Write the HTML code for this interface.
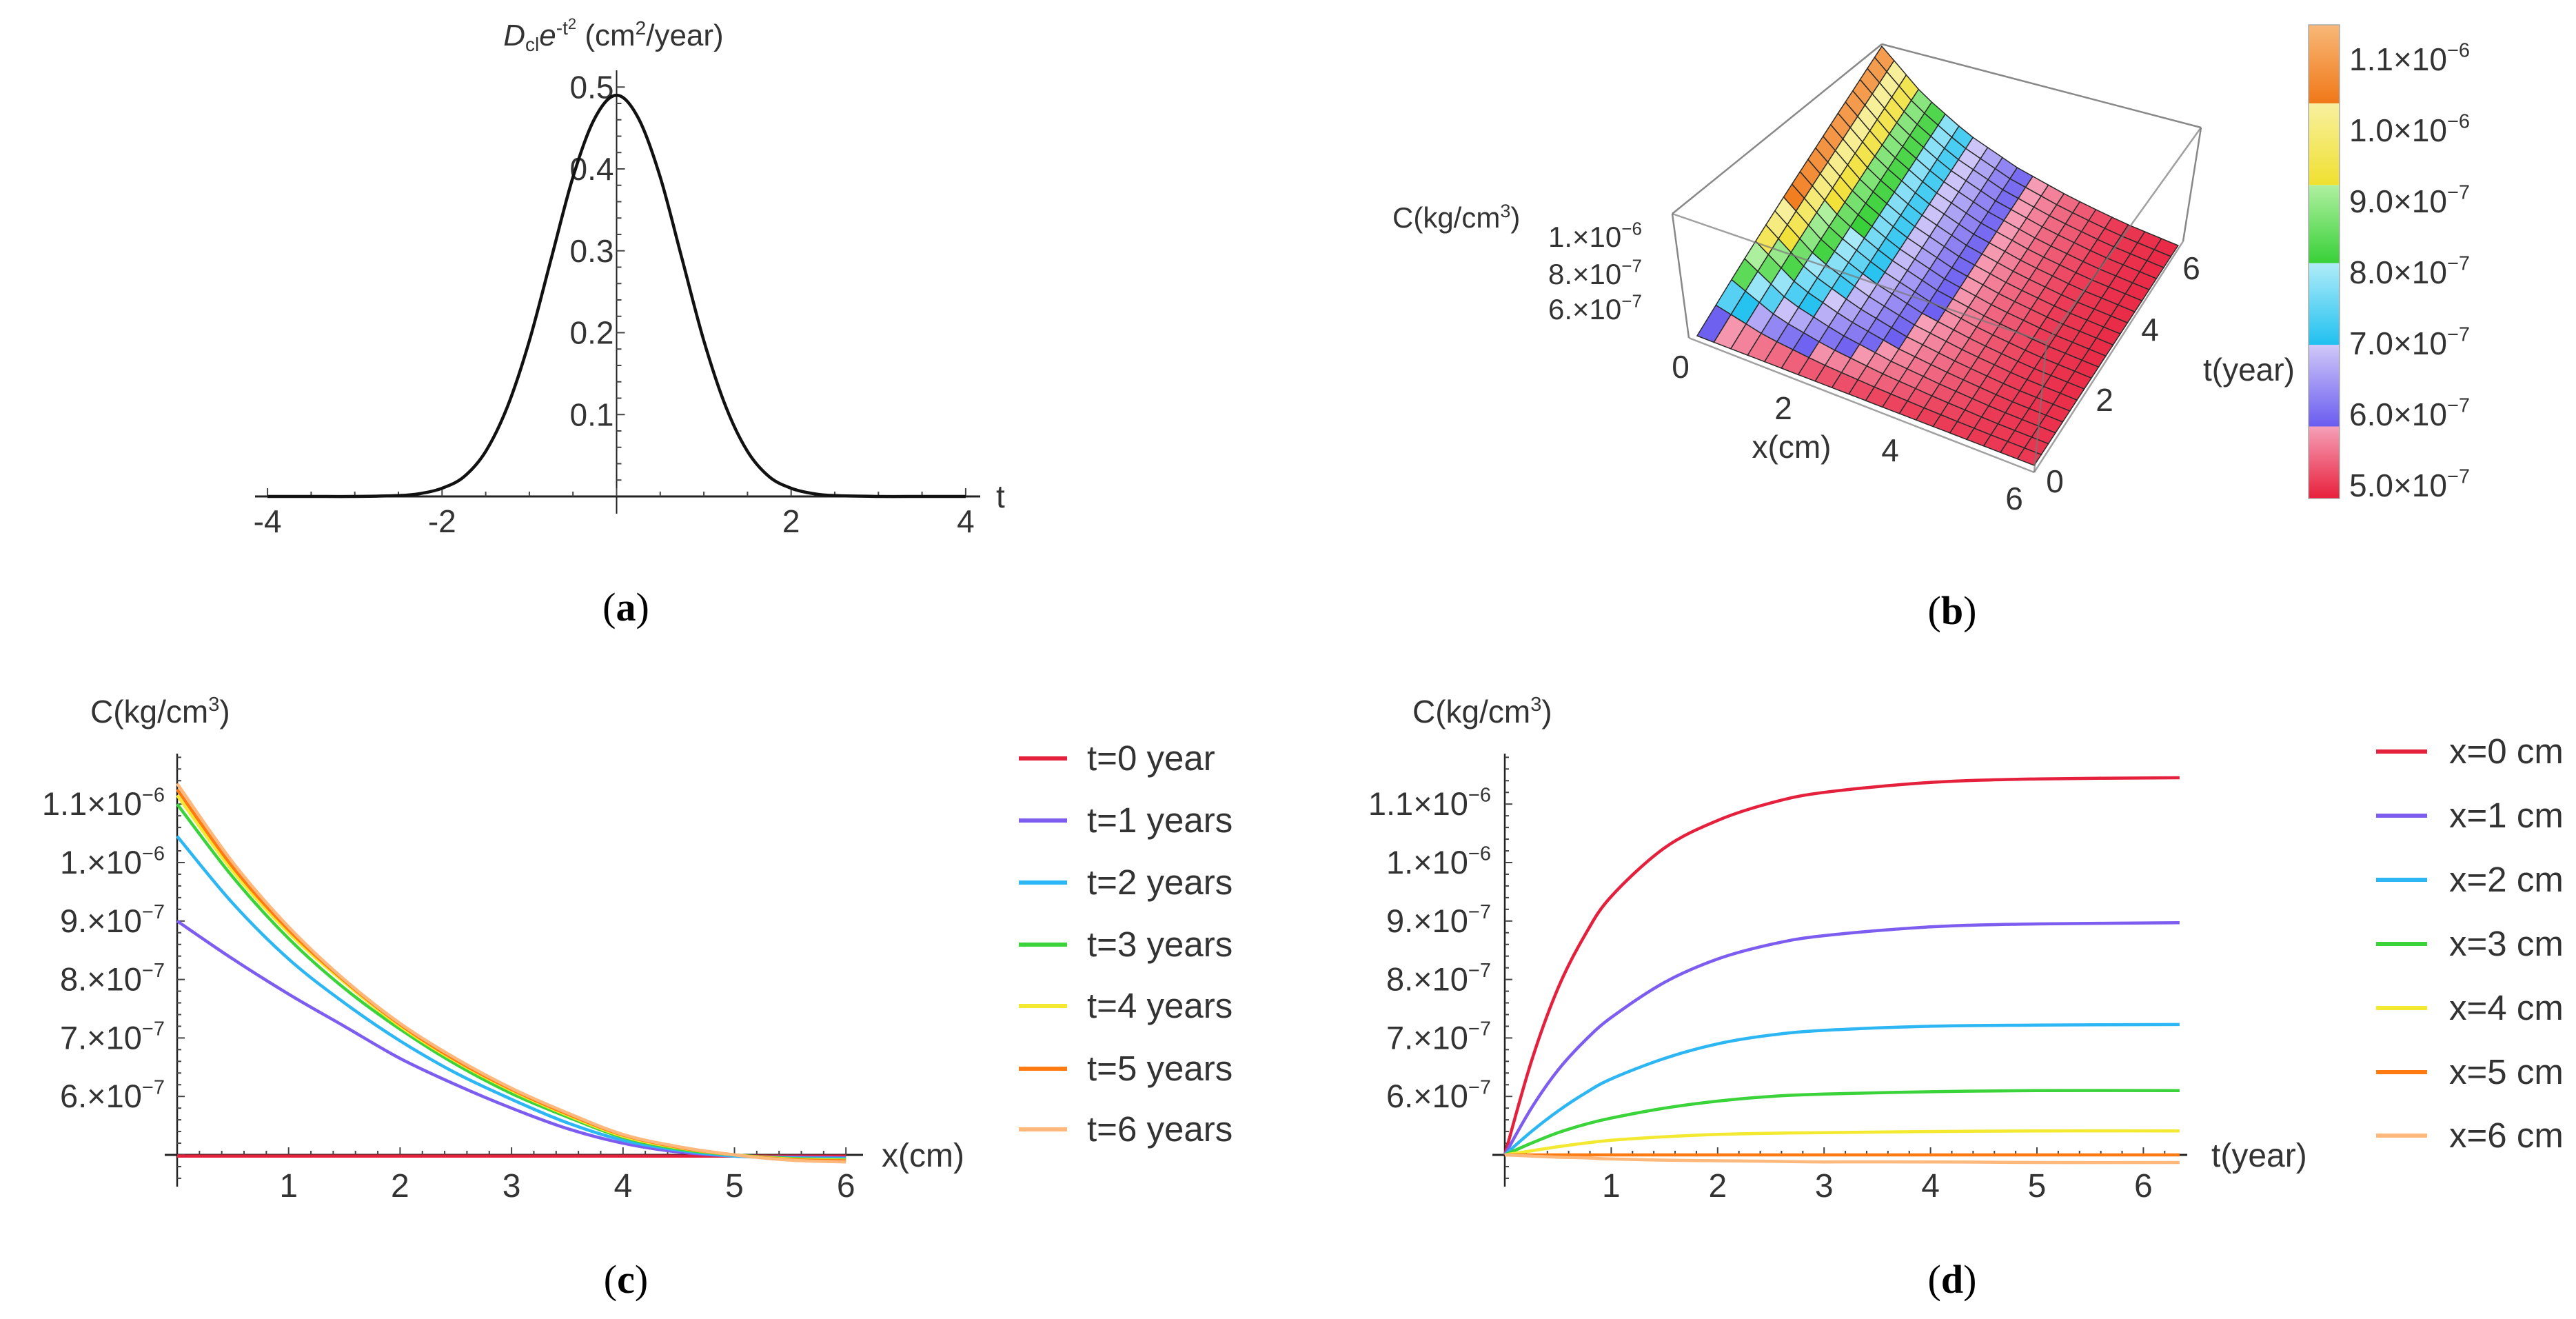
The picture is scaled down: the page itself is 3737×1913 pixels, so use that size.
<!DOCTYPE html>
<html><head><meta charset="utf-8"><style>
html,body{margin:0;padding:0;background:#fff}
svg{display:block}
text{font-family:"Liberation Sans",sans-serif;fill:#333}
.cap{font-family:"Liberation Serif",serif;fill:#000;font-size:58px}
</style></head><body>
<svg id="fig" width="3737" height="1913" viewBox="0 0 3737 1913">
<rect x="0" y="0" width="3737" height="1913" fill="#fff"/>
<g id="pa">
<text x="890" y="66" font-size="44" text-anchor="middle"><tspan font-style="italic">D</tspan><tspan font-size="28" dy="8">cl</tspan><tspan font-style="italic" dy="-8">e</tspan><tspan font-size="28" dy="-16">-t</tspan><tspan font-size="22" dy="-8">2</tspan><tspan dy="24"> (cm</tspan><tspan font-size="28" dy="-16">2</tspan><tspan dy="16">/year)</tspan></text>
<text x="1445" y="736" font-size="46">t</text>
<text x="908" y="900" class="cap" text-anchor="middle">(<tspan font-weight="bold">a</tspan>)</text>
</g>
<g id="pb">
<text x="2020" y="330" font-size="42">C(kg/cm<tspan font-size="27" dy="-15">3</tspan><tspan dy="15">)</tspan></text>
<text x="3196" y="552" font-size="46">t(year)</text>
<text x="2599" y="664" font-size="46" text-anchor="middle">x(cm)</text>
<text x="2832" y="905" class="cap" text-anchor="middle">(<tspan font-weight="bold">b</tspan>)</text>
</g>
<g id="pc">
<text x="131" y="1048" font-size="46">C(kg/cm<tspan font-size="29" dy="-17">3</tspan><tspan dy="17">)</tspan></text>
<text x="1279" y="1692" font-size="48">x(cm)</text>
<text x="908" y="1875" class="cap" text-anchor="middle">(<tspan font-weight="bold">c</tspan>)</text>
</g>
<g id="pd">
<text x="2049" y="1048" font-size="46">C(kg/cm<tspan font-size="29" dy="-17">3</tspan><tspan dy="17">)</tspan></text>
<text x="3208" y="1692" font-size="48">t(year)</text>
<text x="2832" y="1875" class="cap" text-anchor="middle">(<tspan font-weight="bold">d</tspan>)</text>
</g>
</svg>
<script>
// ---------- data ----------
const aT = [-4,-3.5,-3,-2.5,-2.25,-2,-1.75,-1.5,-1.25,-1,-0.75,-0.5,-0.25,0,0.25,0.5,0.75,1,1.25,1.5,1.75,2,2.25,2.5,3,3.5,4];
const aV = [0,0,0,0.001,0.0035,0.01,0.024,0.055,0.11,0.19,0.29,0.39,0.462,0.49,0.462,0.39,0.29,0.19,0.11,0.055,0.024,0.01,0.0035,0.001,0,0,0];
const aXTicks = [-4,-2,2,4];
const aYTicks = [0.1,0.2,0.3,0.4,0.5];

const cX = [0,0.5,1,1.5,2,2.5,3,3.5,4,4.5,5,5.5,6];
const cNames = ['t=0 year','t=1 years','t=2 years','t=3 years','t=4 years','t=5 years','t=6 years'];
const cS0 = [4.98,4.98,4.98,4.98,4.98,4.98,4.98,4.98,4.98,4.98,4.98,4.98,4.98];
const cS1 = [9.0,8.35,7.75,7.2,6.65,6.2,5.8,5.45,5.2,5.05,4.98,4.96,4.95];
const cS2 = [10.45,9.3,8.35,7.6,6.95,6.4,5.95,5.55,5.25,5.08,4.98,4.95,4.94];
const cS3 = [11.0,9.75,8.7,7.85,7.15,6.55,6.05,5.65,5.3,5.1,5.0,4.94,4.92];
const cS4 = [11.15,9.85,8.8,7.95,7.2,6.6,6.1,5.68,5.32,5.12,5.0,4.93,4.91];
const cS5 = [11.25,9.92,8.85,7.98,7.23,6.62,6.12,5.7,5.34,5.13,5.0,4.92,4.9];
const cS6 = [11.35,10.0,8.9,8.0,7.25,6.65,6.14,5.72,5.35,5.14,5.0,4.91,4.88];

const dT = [0,0.25,0.5,0.75,1,1.5,2,2.5,3,4,5,6.34];
const dNames = ['x=0 cm','x=1 cm','x=2 cm','x=3 cm','x=4 cm','x=5 cm','x=6 cm'];
const dS0 = [5.0,6.6,7.85,8.75,9.42,10.25,10.72,11.02,11.2,11.37,11.43,11.45];
const dS1 = [5.0,5.8,6.45,6.95,7.35,7.95,8.35,8.6,8.75,8.9,8.95,8.97];
const dS2 = [5.0,5.4,5.75,6.05,6.3,6.65,6.9,7.05,7.13,7.2,7.22,7.23];
const dS3 = [5.0,5.2,5.38,5.52,5.63,5.8,5.92,6.0,6.04,6.08,6.1,6.1];
const dS4 = [5.0,5.07,5.14,5.2,5.25,5.31,5.35,5.37,5.38,5.4,5.41,5.41];
const dS5 = [5.0,5.0,5.0,5.0,5.0,5.0,5.0,5.0,5.0,5.0,5.0,5.0];
const dS6 = [5.0,4.98,4.96,4.95,4.93,4.91,4.9,4.89,4.88,4.88,4.87,4.87];

const yTickVals = [11,10,9,8,7,6];
const yTickMant = ['1.1','1.','9.','8.','7.','6.'];
const yTickExp = ['-6','-6','-7','-7','-7','-7'];
const xTicksCD = [1,2,3,4,5,6];

const barVals = [11,10,9,8,7,6,5];
const barMant = ['1.1','1.0','9.0','8.0','7.0','6.0','5.0'];
const barExp = ['-6','-6','-7','-7','-7','-7','-7'];
const bTickX = [0,2,4,6];
const bTickT = [0,2,4,6];
const bZTicks = [10,8,6];
const bZMant = ['1.','8.','6.'];
const bZExp = ['-6','-7','-7'];

const colors = ['#e5203c','#7d5df0','#2db6f4','#3ad43a','#f2e930','#ff7a10','#ffb87c'];
</script>
<script>
const svg = document.getElementById('fig');
const NS = svg.namespaceURI;
function mk(tag, attrs, parent){const e=document.createElementNS(NS,tag);for(const k in attrs)e.setAttribute(k,attrs[k]);(parent||svg).appendChild(e);return e;}
function smooth(pts){let d='M'+pts[0][0].toFixed(1)+','+pts[0][1].toFixed(1);
 for(let i=0;i<pts.length-1;i++){const p0=pts[Math.max(0,i-1)],p1=pts[i],p2=pts[i+1],p3=pts[Math.min(pts.length-1,i+2)];
  const c1=[p1[0]+(p2[0]-p0[0])/6,p1[1]+(p2[1]-p0[1])/6],c2=[p2[0]-(p3[0]-p1[0])/6,p2[1]-(p3[1]-p1[1])/6];
  d+=' C'+c1[0].toFixed(1)+','+c1[1].toFixed(1)+' '+c2[0].toFixed(1)+','+c2[1].toFixed(1)+' '+p2[0].toFixed(1)+','+p2[1].toFixed(1);}
 return d;}
function sciLabel(x,y,mant,exp,size,anchor,parent,name){
 const t=mk('text',{x:x,y:y,'font-size':size,'text-anchor':anchor},parent);
 
 
 t.appendChild(document.createTextNode(mant+'\u00d710'));
 const s=mk('tspan',{'font-size':Math.round(size*0.62),dy:-size*0.42},t);
 s.textContent=exp.replace('-','\u2212');
 return t;}

// ---------- Panel A ----------
const pa=document.getElementById('pa');
const aX=t=>894.5+t*126.6, aY=v=>720-v*1187.5;
let ax=mk('line',{x1:370,y1:720,x2:1422,y2:720,stroke:'#222','stroke-width':3},pa);


let ay=mk('line',{x1:aX(0),y1:102,x2:aX(0),y2:745,stroke:'#222','stroke-width':2},pa);


for(let t=-4;t<=4.001;t+=0.5){const big=Math.abs(t%2)<0.01;const tk=mk('line',{x1:aX(t),y1:720,x2:aX(t),y2:720-(big?12:7),stroke:'#444','stroke-width':2},pa);
 
 }
for(let v=0.02;v<=0.52;v+=0.02){const big=Math.abs((v*10)-Math.round(v*10))<0.01;const tk=mk('line',{x1:aX(0),y1:aY(v),x2:aX(0)+(big?12:7),y2:aY(v),stroke:'#444','stroke-width':2},pa);
 
 }
aXTicks.forEach(t=>{const l=mk('text',{x:aX(t),y:772,'font-size':46,'text-anchor':'middle'},pa);l.textContent=(t<0?'-':'')+Math.abs(t);
 
 });
aYTicks.forEach(v=>{const l=mk('text',{x:aX(0)-4,y:aY(v)+16,'font-size':46,'text-anchor':'end'},pa);l.textContent=v.toFixed(1);
 
 });
const aCurve=mk('path',{d:smooth(aT.map((t,i)=>[aX(t),aY(aV[i])])),fill:'none',stroke:'#111','stroke-width':4.5},pa);



// ---------- Panels C & D shared ----------
const vY=v=>1675-(v-5)*84.8;
function axesCD(g,x0,x1,xTick,xMinorStep,xMax,yLabelRight,pre){
 let l=mk('line',{x1:x0-18,y1:1675,x2:x1,y2:1675,stroke:'#222','stroke-width':3},g);
 
 
 l=mk('line',{x1:x0,y1:1093,x2:x0,y2:1721,stroke:'#222','stroke-width':2.5},g);
 
 
 for(let v=4.6;v<=11.81;v+=0.2){const big=Math.abs(v-Math.round(v))<0.01;const tk=mk('line',{x1:x0,y1:vY(v),x2:x0+(big?11:6),y2:vY(v),stroke:'#444','stroke-width':2},g);
  
  }
 for(let x=xMinorStep;x<=xMax;x+=xMinorStep){const big=Math.abs(x-Math.round(x))<0.01;const tk=mk('line',{x1:xTick(x),y1:1675,x2:xTick(x),y2:1675-(big?11:6),stroke:'#444','stroke-width':2},g);
  
  }
 xTicksCD.forEach(x=>{const t=mk('text',{x:xTick(x),y:1736,'font-size':48,'text-anchor':'middle'},g);t.textContent=String(x);
  
  });
 yTickVals.forEach((v,i)=>{sciLabel(yLabelRight,vY(v)+16,yTickMant[i],yTickExp[i],47,'end',g,pre+'-y-tick-label');});
}
function legend(g,lx1,lx2,tx,rows,names,pre){
 names.forEach((n,i)=>{const l=mk('line',{x1:lx1,y1:rows[i],x2:lx2,y2:rows[i],stroke:colors[i],'stroke-width':6},g);
  
  
  const t=mk('text',{x:tx,y:rows[i]+17,'font-size':51},g);t.textContent=n;
  
  });
}
// Panel C
const pc=document.getElementById('pc');
const cXf=x=>257+x*161.7;
axesCD(pc,257,1252,cXf,0.2,6.1,239,'panel-c');
[cS0,cS1,cS2,cS3,cS4,cS5,cS6].forEach((s,i)=>{const p=mk('path',{d:smooth(cX.map((x,j)=>[cXf(x),vY(s[j])])),fill:'none',stroke:colors[i],'stroke-width':4.5},pc);
 
 });
legend(pc,1478,1548,1577,[1100,1190,1280,1370,1459,1550,1638],cNames,'panel-c');
// Panel D
const pd=document.getElementById('pd');
const dXf=t=>2183+t*154.4;
axesCD(pd,2183,3173,dXf,0.2,6.4,2163,'panel-d');
[dS0,dS1,dS2,dS3,dS4,dS5,dS6].forEach((s,i)=>{const p=mk('path',{d:smooth(dT.map((t,j)=>[dXf(t),vY(s[j])])),fill:'none',stroke:colors[i],'stroke-width':4.5},pd);
 
 });
legend(pd,3447,3521,3553,[1090,1183,1276,1369,1462,1555,1647],dNames,'panel-d');

// ---------- Panel B ----------
const pb=document.getElementById('pb');
const bands=[[4.8,5.83,[232,32,60],[246,160,184]],[5.83,6.98,[106,92,240],[208,200,248]],[6.98,8.13,[32,192,240],[176,236,248]],[8.13,9.23,[56,208,56],[176,240,160]],[9.23,10.38,[240,224,48],[248,240,160]],[10.38,11.6,[240,120,24],[248,184,120]]];
function col(v){let b=bands[0];for(const bb of bands){if(v>=bb[0])b=bb;}
 let f=Math.max(0,Math.min(1,(v-b[0])/(b[1]-b[0])));
 const c=b[2].map((a,k)=>Math.round(a+(b[3][k]-a)*f));return 'rgb('+c.join(',')+')';}
const dSer=[dS0,dS1,dS2,dS3,dS4,dS5,dS6];
function cval(x,t){const xi=Math.min(5,Math.floor(x)),fx=x-xi;let j=0;while(j<dT.length-2&&t>dT[j+1])j++;
 const ft=Math.min(1,(t-dT[j])/(dT[j+1]-dT[j]));
 const at=s=>s[j]+(s[j+1]-s[j])*ft;return at(dSer[xi])*(1-fx)+at(dSer[xi+1])*fx;}
function proj(x,t,z){const u=x/6,w=t/6;return [2462+u*489+w*210+(z-5)*9, 487+u*188-w*321+(z-5)*(-15.35)];}
const boxBack=[[[2730,64],[3193,185]],[[2730,64],[2426,310]],[[2426,310],[2450,490]],[[3193,185],[3167,350]]];
boxBack.forEach(e=>{const l=mk('line',{x1:e[0][0],y1:e[0][1],x2:e[1][0],y2:e[1][1],stroke:'#888','stroke-width':2.5},pb);
 
 });
const N=20;
for(let jt=N-1;jt>=0;jt--){for(let ix=0;ix<N;ix++){
 const x0=ix*6/N,x1=(ix+1)*6/N,t0=jt*6/N,t1=(jt+1)*6/N;
 const P=[[x0,t0],[x1,t0],[x1,t1],[x0,t1]].map(p=>proj(p[0],p[1],cval(p[0],p[1])));
 const v=cval((x0+x1)/2,(t0+t1)/2);
 const q=mk('polygon',{points:P.map(p=>p[0].toFixed(1)+','+p[1].toFixed(1)).join(' '),fill:col(v),stroke:'#2a2a2a','stroke-width':1.5},pb);
 
 }}
const boxFront=[[[2426,310],[2969,497]],[[2969,497],[3193,185]],[[2969,497],[2951,685]],[[2450,490],[2951,685]],[[2951,685],[3167,350]]];
boxFront.forEach(e=>{const l=mk('line',{x1:e[0][0],y1:e[0][1],x2:e[1][0],y2:e[1][1],stroke:'#777','stroke-width':2.5,'stroke-opacity':0.7},pb);
 
 });
const xLabPos=[[2438,548],[2587,608],[2742,669],[2922,739]];
bTickX.forEach((v,i)=>{const t=mk('text',{x:xLabPos[i][0],y:xLabPos[i][1],'font-size':46,'text-anchor':'middle'},pb);t.textContent=String(v);
 
 });
const tLabPos=[[2981,714],[3053,596],[3119,494],[3179,405]];
bTickT.forEach((v,i)=>{const t=mk('text',{x:tLabPos[i][0],y:tLabPos[i][1],'font-size':46,'text-anchor':'middle'},pb);t.textContent=String(v);
 
 });
const zLabY=[358,412,463];
bZTicks.forEach((v,i)=>{sciLabel(2246,zLabY[i],bZMant[i],bZExp[i],42,'start',pb,'panel-b-z-tick-label');});
const cbY=v=>704-(v-5)*103;
bands.forEach((b,i)=>{const gid='bg'+i;const lg=mk('linearGradient',{id:gid,x1:0,y1:1,x2:0,y2:0},pb);
 mk('stop',{offset:0,'stop-color':'rgb('+b[2].join(',')+')'},lg);mk('stop',{offset:1,'stop-color':'rgb('+b[3].join(',')+')'},lg);
 const y1=Math.max(36,cbY(b[1])),y2=Math.min(723,cbY(b[0]));
 const r=mk('rect',{x:3349,y:y1,width:45,height:y2-y1,fill:'url(#'+gid+')'},pb);
 
 });
let cbf=mk('rect',{x:3349,y:36,width:45,height:687,fill:'none',stroke:'#aaa','stroke-width':1.5},pb);


barVals.forEach((v,i)=>{sciLabel(3408,cbY(v)+16,barMant[i],barExp[i],46,'start',pb,'colorbar-tick-label');});
</script>
</body></html>
